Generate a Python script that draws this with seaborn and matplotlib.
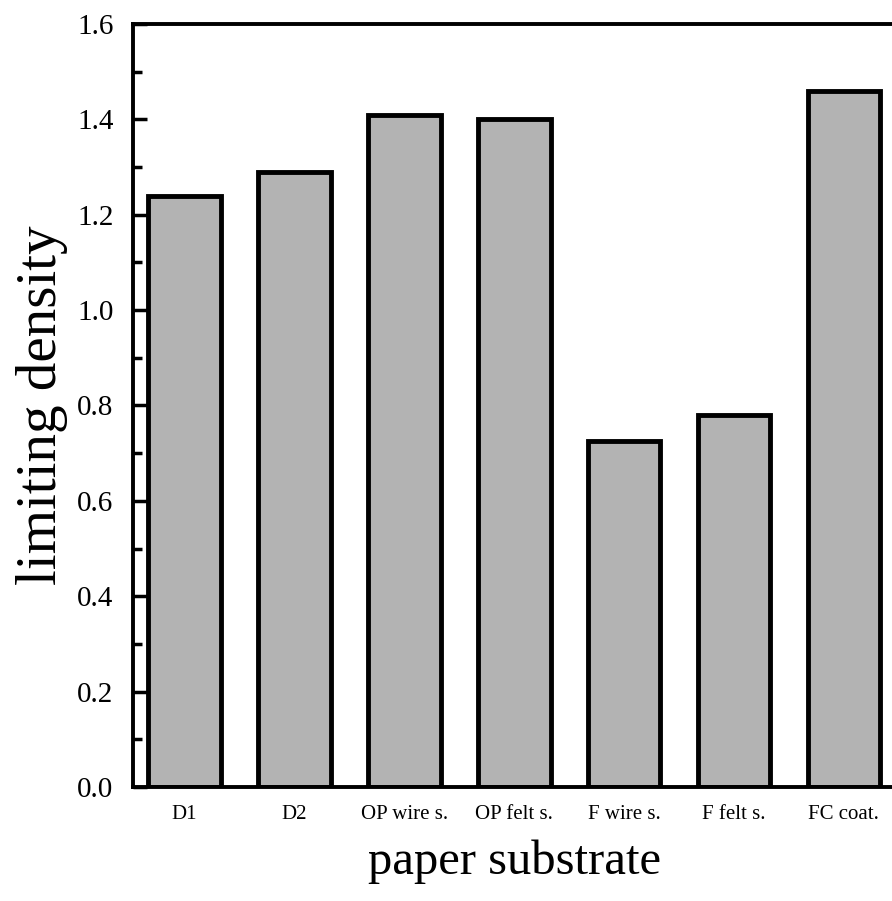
import matplotlib
matplotlib.use("Agg")
import matplotlib.pyplot as plt
import seaborn as sns
import pandas as pd
from matplotlib.ticker import MultipleLocator

categories = ["D1", "D2", "OP wire s.", "OP felt s.", "F wire s.", "F felt s.", "FC coat."]
values = [1.24, 1.29, 1.41, 1.40, 0.725, 0.78, 1.46]

sns.set_style("ticks")
plt.rcParams['font.family'] = ['Liberation Serif', 'DejaVu Serif']
plt.rcParams['text.color'] = 'black'
plt.rcParams['axes.labelcolor'] = 'black'
plt.rcParams['xtick.color'] = 'black'
plt.rcParams['ytick.color'] = 'black'

df = pd.DataFrame({"substrate": categories, "density": values})

fig = plt.figure(figsize=(8.92, 9.01), dpi=100)
ax = fig.add_axes([0.149, 0.1265, 0.855, 0.8469])
sns.barplot(data=df, x="substrate", y="density", ax=ax, color="#b3b3b3",
            saturation=1, edgecolor="black", linewidth=3.5, width=0.66)

ax.set_xlim(-0.47, 6.47)
ax.set_ylim(0, 1.6)
ax.yaxis.set_minor_locator(MultipleLocator(0.1))
ax.set_yticks([0, 0.2, 0.4, 0.6, 0.8, 1.0, 1.2, 1.4, 1.6])
ax.set_yticklabels(["0.0", "0.2", "0.4", "0.6", "0.8", "1.0", "1.2", "1.4", "1.6"], fontsize=21)
ax.tick_params(axis="y", which="major", direction="in", length=10, width=2.5, pad=14)
ax.tick_params(axis="y", which="minor", direction="in", length=6.5, width=2.5)
ax.tick_params(axis="x", which="both", length=0, pad=13, labelsize=15)
ax.tick_params(right=False, top=False)

for s in ["left", "bottom", "top", "right"]:
    ax.spines[s].set_linewidth(2.8)
    ax.spines[s].set_color("black")

ax.set_xlabel("paper substrate", fontsize=35, labelpad=11)
ax.set_ylabel("limiting density", fontsize=41, labelpad=6.5)

fig.savefig("out.png", dpi=100)
